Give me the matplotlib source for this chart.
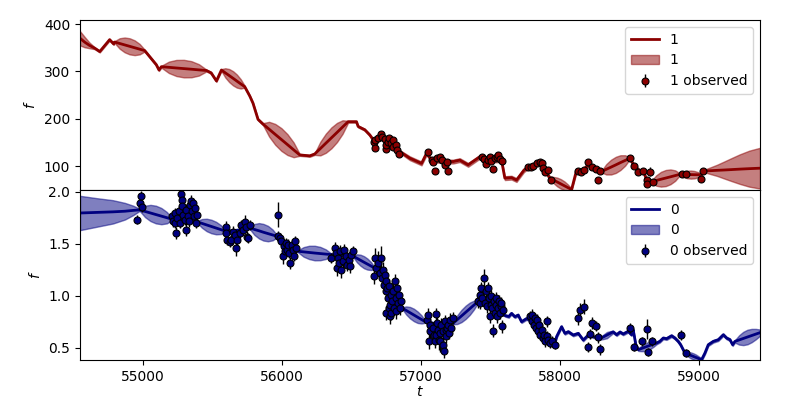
import numpy as np
import matplotlib
matplotlib.use('Agg')
import matplotlib.pyplot as plt

# ---- series "1" (top panel): fitted mean, band half-width, observations ----
t1_fit = [54547, 54580, 54615, 54653, 54689, 54760, 54789, 54796,
          54832, 54868, 54904, 54940, 54976, 55012, 55096, 55115, 55132,
          55186, 55240, 55294, 55348, 55402, 55456, 55490, 55528, 55564,
          55592, 55620, 55648, 55675, 55703, 55731, 55768, 55791, 55827, 55863,
          55907, 55951, 55995, 56039, 56083, 56127, 56199, 56235,
          56275, 56315, 56355, 56395, 56435, 56475, 56535, 56547, 56595, 56631, 56655, 56720, 56790, 56847, 56919, 57003,
          57039, 57075, 57183, 57231, 57278, 57338, 57422, 57500, 57578, 57602, 57650, 57686, 57740, 57782, 57854, 57926,
          57952, 57978, 58004, 58030, 58056, 58082, 58118, 58160, 58201, 58240, 58298,
          58332, 58366, 58400, 58433, 58467, 58501, 58532, 58573, 58600, 58621, 58657,
          58691, 58725, 58759, 58793, 58827, 58861,
          58887, 58913, 58939, 58965, 58991, 59017, 59029,
          59080, 59130, 59180, 59230, 59290, 59360, 59437]
f1_fit = [370, 362, 355, 349, 342, 367, 358, 362,
          359, 356, 353, 350, 347, 344, 314, 303, 310,
          308.7, 307.3, 306, 304.7, 303.3, 302, 297, 280, 303,
          297, 291.3, 285.5, 279.7, 273.8, 268, 248, 233, 199, 189,
          178.2, 167.3, 156.5, 145.7, 134.8, 124, 122, 126,
          137.3, 148.7, 160, 171.3, 182.7, 194, 194, 184, 177, 166, 156, 160, 148, 131, 117, 106,
          127.5, 113, 110, 110, 113, 103, 120, 112, 113, 75, 76, 71, 92, 100.5, 108, 75,
          71, 67, 63, 59, 55, 51, 92, 90, 103, 95, 89,
          93.7, 98.3, 103, 107.7, 112.3, 117, 101, 89, 89, 71, 67.5,
          70, 72.7, 75.2, 77.8, 80.4, 83,
          83, 82.7, 82.5, 82.3, 82.2, 82, 90,
          90.7, 91.5, 92.2, 93, 94, 95, 96]
s1_fit = [15, 11, 6, 2, 2, 2, 2, 2,
          11, 15.6, 17, 15.6, 11, 2, 2, 2, 2,
          12, 17, 18.5, 17, 12, 2, 2, 2, 2,
          9.8, 13.8, 15, 13.8, 9.8, 2, 2, 2, 2, 2,
          15.6, 22, 24, 22, 15.6, 2, 2, 2,
          14.3, 20.2, 22, 20.2, 14.3, 2, 2, 2, 2, 2, 3, 3, 3, 3, 4, 4,
          4, 4, 4, 4, 4, 4, 4, 4, 4, 4, 4, 4, 4, 4, 4, 4,
          6.5, 9.2, 10, 9.2, 6.5, 2, 4, 4, 4, 4, 2,
          11, 15.6, 17, 15.6, 11, 2, 4, 4, 4, 4, 2,
          11, 15.6, 17, 15.6, 11, 2,
          5.5, 7.8, 8.5, 7.8, 5.5, 2, 2,
          7, 12, 18, 24, 31, 38, 43]

t1_obs = [56660, 56667, 56667, 56690, 56715, 56722, 56738, 56746, 56751, 56762, 56769, 56787, 56798, 56798, 56818, 56827, 56842,
          57050, 57075, 57086, 57098, 57115, 57134, 57147, 57170, 57187, 57194,
          57436, 57451, 57466, 57482, 57494, 57506, 57518, 57530, 57546, 57553, 57566, 57585,
          57772, 57789, 57806, 57830, 57854, 57866, 57878, 57890, 57913, 57931,
          58130, 58147, 58171, 58202, 58226, 58257, 58273, 58290,
          58501, 58532, 58557, 58593, 58621, 58626, 58645, 58665,
          58873, 58902, 59012, 59029]
f1_obs = [150.6, 155.5, 138, 159, 168, 162.5, 157, 136, 145, 152, 159, 148.6, 155.5, 141, 145, 134.5, 126,
          129.6, 113, 110, 91, 117, 119, 113, 103, 108.5, 91,
          120, 114.6, 104.8, 113, 120, 111.6, 93.5, 117, 120, 124, 114.6, 111.6,
          99, 98, 100.6, 106, 109.7, 106, 95.8, 88.6, 92, 71,
          90, 88.6, 92, 108.5, 98, 93.6, 71, 90,
          117, 100.6, 88.6, 90, 71, 62.6, 88.6, 67.5,
          83, 83, 72.5, 90]
e1_obs = [3, 3, 3, 3, 3, 3, 3, 3, 3, 3, 3, 3, 3, 3, 3, 3, 3,
          3, 3, 3, 3, 3, 3, 3, 3, 3, 3,
          3, 3, 3, 3, 3, 3, 3, 3, 3, 7, 3, 3,
          3, 3, 3, 3, 3, 3, 3, 3, 3, 3,
          3, 3, 3, 3, 3, 3, 3, 3,
          3, 3, 3, 3, 3, 3, 9, 3,
          3, 3, 5, 3]

# ---- series "0" (bottom panel) ----
t0_fit = [54547, 54665, 54784, 54870, 54930, 54976,
          55015, 55054, 55093, 55132, 55171, 55210, 55300, 55390,
          55424, 55458, 55492, 55526, 55561, 55595, 55680, 55768,
          55801, 55834, 55866, 55899, 55932, 55965, 56040, 56115,
          56155, 56195, 56235, 56275, 56315, 56355, 56435, 56513,
          56538, 56564, 56589, 56614, 56640, 56665, 56720, 56780, 56865,
          56893, 56920, 56948, 56975, 57003, 57030, 57130, 57230,
          57260, 57290, 57320, 57350, 57380, 57410, 57460, 57530, 57602,
          57630, 57650, 57674, 57698, 57722, 57758, 57790, 57850, 57920, 57962,
          57974, 58010, 58034, 58058, 58094, 58130, 58166, 58202, 58238, 58290,
          58313, 58336, 58358, 58381, 58406, 58430, 58453, 58489, 58513, 58525, 58544, 58561,
          58583, 58605, 58627, 58649, 58671, 58693, 58717, 58741, 58765, 58801, 58825, 58849, 58866, 58897,
          58917, 58937, 58957, 58977, 58997, 59017, 59041, 59065, 59101, 59137, 59173, 59197, 59221, 59240, 59257,
          59287, 59317, 59347, 59377, 59407, 59437]
f0_fit = [1.795, 1.80, 1.806, 1.812, 1.82, 1.825,
          1.81, 1.795, 1.78, 1.765, 1.75, 1.735, 1.72, 1.71,
          1.695, 1.68, 1.665, 1.65, 1.635, 1.62, 1.63, 1.65,
          1.637, 1.624, 1.61, 1.597, 1.584, 1.571, 1.50, 1.427,
          1.421, 1.416, 1.41, 1.405, 1.399, 1.394, 1.385, 1.379,
          1.36, 1.341, 1.322, 1.304, 1.285, 1.266, 1.17, 1.02, 0.88,
          0.858, 0.837, 0.815, 0.793, 0.772, 0.75, 0.725, 0.735,
          0.77, 0.805, 0.84, 0.875, 0.91, 0.945, 0.98, 0.93, 0.81,
          0.80, 0.83, 0.798, 0.814, 0.75, 0.78, 0.76, 0.66, 0.57, 0.54,
          0.606, 0.702, 0.638, 0.654, 0.622, 0.638, 0.574, 0.622, 0.606, 0.59,
          0.606, 0.621, 0.637, 0.652, 0.625, 0.651, 0.632, 0.658, 0.625, 0.673, 0.529, 0.481,
          0.492, 0.502, 0.513, 0.524, 0.534, 0.545, 0.562, 0.593, 0.587, 0.615, 0.593, 0.561, 0.529, 0.449,
          0.438, 0.428, 0.417, 0.406, 0.396, 0.385, 0.449, 0.529, 0.561, 0.577, 0.625, 0.593, 0.577, 0.529, 0.561,
          0.575, 0.589, 0.603, 0.617, 0.631, 0.645]
s0_fit = [0.165, 0.138, 0.112, 0.08, 0.045, 0.01,
          0.055, 0.078, 0.085, 0.078, 0.055, 0.01, 0.01, 0.01,
          0.042, 0.06, 0.065, 0.06, 0.042, 0.01, 0.01, 0.01,
          0.052, 0.074, 0.08, 0.074, 0.052, 0.01, 0.01, 0.01,
          0.046, 0.064, 0.07, 0.064, 0.046, 0.01, 0.01, 0.01,
          0.038, 0.053, 0.058, 0.053, 0.038, 0.01, 0.01, 0.01, 0.01,
          0.039, 0.055, 0.06, 0.055, 0.039, 0.01, 0.01, 0.01,
          0.042, 0.059, 0.064, 0.059, 0.042, 0.01, 0.01, 0.01, 0.01,
          0.012, 0.012, 0.012, 0.012, 0.012, 0.012, 0.012, 0.012, 0.012, 0.012,
          0.012, 0.012, 0.012, 0.012, 0.012, 0.012, 0.012, 0.012, 0.012, 0.012,
          0.022, 0.03, 0.022, 0.012, 0.012, 0.012, 0.012, 0.012, 0.012, 0.012, 0.012, 0.012,
          0.025, 0.035, 0.038, 0.035, 0.025, 0.012, 0.012, 0.012, 0.012, 0.012, 0.012, 0.012, 0.012, 0.012,
          0.02, 0.028, 0.03, 0.028, 0.02, 0.012, 0.012, 0.012, 0.012, 0.012, 0.012, 0.012, 0.012, 0.012, 0.012,
          0.045, 0.064, 0.07, 0.064, 0.05, 0.03]

t0_obs = [54958, 54976, 54988, 54996,
          55211, 55216, 55228, 55228, 55240, 55247, 55257, 55264, 55276, 55278, 55283, 55288, 55300,
          55307, 55312, 55324, 55331, 55341, 55348, 55355, 55360, 55365, 55372, 55379, 55389,
          55595, 55600, 55604, 55624, 55636, 55648, 55660, 55667, 55676, 55696, 55708, 55720, 55732,
          55744, 55748, 55756, 55768,
          55971, 55971, 55983, 55995, 56007, 56015, 56019, 56027, 56036, 56043, 56051, 56060, 56075,
          56079, 56087, 56091, 56099,
          56355, 56379, 56386, 56396, 56403, 56410, 56415, 56427, 56439, 56446, 56458, 56468, 56480,
          56487, 56499, 56511,
          56660, 56667, 56679, 56691, 56703, 56715, 56722, 56727, 56734, 56739, 56746, 56751, 56751,
          56758, 56763, 56770, 56770, 56775, 56775, 56782, 56787, 56794, 56799, 56806, 56811, 56818,
          56823, 56830, 56835, 56842, 56847, 56854,
          57039, 57051, 57058, 57062, 57067, 57082, 57091, 57098, 57106, 57110, 57115, 57122, 57130,
          57134, 57139, 57146, 57154, 57158, 57163, 57170, 57178, 57182, 57187, 57194, 57201, 57211,
          57218, 57226,
          57410, 57422, 57427, 57434, 57441, 57451, 57458, 57465, 57475, 57482, 57489, 57494, 57501,
          57506, 57513, 57518, 57523, 57530, 57537, 57542, 57547, 57554, 57561, 57566, 57571, 57578,
          57585, 57590,
          57782, 57794, 57801, 57811, 57818, 57825, 57835, 57842, 57849, 57854, 57866, 57873, 57883,
          57890, 57902, 57907, 57914, 57926, 57938, 57962,
          58130, 58146, 58170, 58202, 58214, 58231, 58257, 58274, 58285,
          58501, 58530, 58585, 58621, 58628, 58657, 58868, 58904]
f0_obs = [1.731, 1.891, 1.956, 1.85,
          1.763, 1.715, 1.795, 1.699, 1.603, 1.747, 1.811, 1.699, 1.978, 1.923, 1.859, 1.779, 1.731,
          1.635, 1.827, 1.763, 1.715, 1.875, 1.907, 1.811, 1.891, 1.763, 1.843, 1.699, 1.779,
          1.664, 1.600, 1.536, 1.520, 1.536, 1.616, 1.584, 1.455, 1.536, 1.600, 1.680, 1.632, 1.712,
          1.664, 1.568, 1.552, 1.680,
          1.779, 1.571, 1.555, 1.523, 1.379, 1.475, 1.427, 1.507, 1.443, 1.491, 1.411, 1.314, 1.491,
          1.443, 1.379, 1.523, 1.459,
          1.362, 1.459, 1.411, 1.266, 1.362, 1.314, 1.427, 1.250, 1.330, 1.443, 1.379, 1.298, 1.346,
          1.282, 1.395, 1.427,
          1.186, 1.362, 1.266, 1.314, 1.218, 1.362, 1.170, 1.250, 1.106, 1.202, 1.042, 1.138, 0.834,
          1.074, 0.978, 1.090, 0.882, 0.914, 0.802, 1.010, 0.834, 0.946, 1.042, 0.882, 1.138, 0.978,
          0.850, 1.074, 0.930, 1.010, 0.882, 0.946,
          0.770, 0.818, 0.561, 0.722, 0.657, 0.690, 0.625, 0.561, 0.824, 0.625, 0.738, 0.674, 0.577,
          0.641, 0.561, 0.722, 0.529, 0.657, 0.465, 0.753, 0.674, 0.609, 0.690, 0.722, 0.641, 0.770,
          0.690, 0.786,
          0.946, 1.010, 0.930, 1.074, 0.978, 1.170, 0.930, 1.042, 0.898, 1.074, 0.978, 0.802, 0.914,
          0.994, 0.882, 0.664, 0.946, 0.834, 0.914, 0.978, 0.802, 0.882, 0.946, 0.834, 0.898, 0.930,
          0.706, 0.866,
          0.802, 0.753, 0.818, 0.722, 0.786, 0.690, 0.770, 0.657, 0.722, 0.625, 0.674, 0.593, 0.625,
          0.561, 0.753, 0.609, 0.577, 0.545, 0.561, 0.523,
          0.782, 0.862, 0.895, 0.507, 0.632, 0.740, 0.707, 0.600, 0.483,
          0.688, 0.504, 0.561, 0.680, 0.459, 0.561, 0.625, 0.449]
e0_obs = [0.04, 0.05, 0.05, 0.05,
          0.05, 0.05, 0.05, 0.05, 0.06, 0.05, 0.05, 0.05, 0.04, 0.05, 0.05, 0.05, 0.05,
          0.06, 0.05, 0.05, 0.05, 0.05, 0.06, 0.05, 0.05, 0.05, 0.05, 0.05, 0.05,
          0.05, 0.05, 0.05, 0.05, 0.05, 0.05, 0.05, 0.07, 0.05, 0.05, 0.05, 0.05, 0.06,
          0.05, 0.05, 0.05, 0.05,
          0.12, 0.05, 0.05, 0.05, 0.07, 0.05, 0.05, 0.05, 0.05, 0.05, 0.05, 0.06, 0.05,
          0.05, 0.05, 0.05, 0.05,
          0.05, 0.06, 0.05, 0.08, 0.05, 0.05, 0.06, 0.08, 0.06, 0.05, 0.05, 0.06, 0.05,
          0.06, 0.05, 0.05,
          0.07, 0.10, 0.07, 0.12, 0.07, 0.12, 0.07, 0.07, 0.07, 0.07, 0.08, 0.07, 0.07,
          0.07, 0.07, 0.07, 0.07, 0.07, 0.07, 0.07, 0.07, 0.07, 0.07, 0.07, 0.07, 0.07,
          0.07, 0.07, 0.07, 0.07, 0.07, 0.07,
          0.06, 0.06, 0.07, 0.06, 0.06, 0.06, 0.06, 0.06, 0.06, 0.06, 0.06, 0.06, 0.10,
          0.06, 0.10, 0.06, 0.08, 0.06, 0.06, 0.06, 0.06, 0.06, 0.06, 0.06, 0.06, 0.06,
          0.06, 0.06,
          0.06, 0.06, 0.06, 0.06, 0.06, 0.09, 0.06, 0.06, 0.06, 0.06, 0.06, 0.06, 0.06,
          0.06, 0.06, 0.06, 0.06, 0.06, 0.06, 0.06, 0.06, 0.06, 0.06, 0.06, 0.06, 0.06,
          0.06, 0.06,
          0.05, 0.05, 0.05, 0.05, 0.05, 0.05, 0.05, 0.05, 0.05, 0.05, 0.05, 0.05, 0.05,
          0.05, 0.05, 0.05, 0.05, 0.05, 0.05, 0.04,
          0.06, 0.07, 0.07, 0.05, 0.05, 0.06, 0.05, 0.05, 0.05,
          0.05, 0.04, 0.04, 0.10, 0.04, 0.04, 0.05, 0.04]

series = [
    ('1', 'darkred', t1_fit, f1_fit, s1_fit, t1_obs, f1_obs, e1_obs, (50, 408.5)),
    ('0', 'navy', t0_fit, f0_fit, s0_fit, t0_obs, f0_obs, e0_obs, (0.382, 2.016)),
]

fig, axes = plt.subplots(2, 1, sharex=True, figsize=(8, 4), dpi=100)
fig.subplots_adjust(left=0.1, right=0.95, top=0.95, bottom=0.1, hspace=0)

for ax, (name, col, tf, mf, sf, to, fo, eo, ylim) in zip(axes, series):
    tf = np.array(tf)
    mf = np.array(mf)
    sf = np.array(sf)
    ax.plot(tf, mf, color=col, lw=2, label=name)
    ax.fill_between(tf, mf - sf, mf + sf, color=col, alpha=0.5, label=name)
    ax.errorbar(to, fo, yerr=eo, fmt='o', ms=5, mfc=col, mec='k', mew=0.8,
                ecolor='k', elinewidth=1, label=name + ' observed')
    ax.set_ylim(*ylim)
    ax.set_ylabel('$f$')
    ax.legend(loc='upper right')

axes[1].set_xlim(54547, 59437)
axes[1].set_xlabel('$t$', labelpad=1)

fig.savefig('out.png')
